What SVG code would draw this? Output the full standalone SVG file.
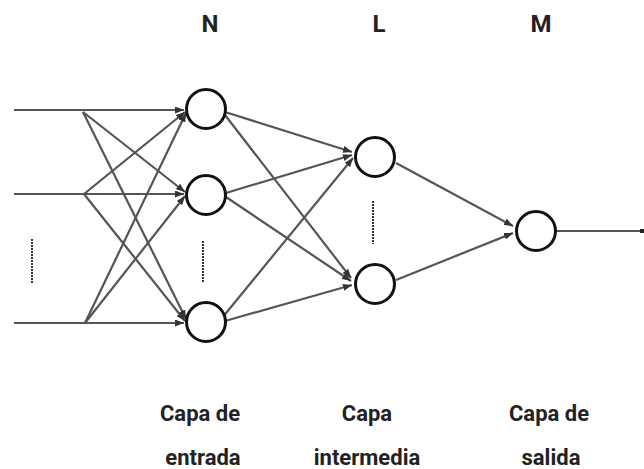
<svg xmlns="http://www.w3.org/2000/svg" width="644" height="469" viewBox="0 0 644 469">
  <style>
    .wire { fill: none; stroke: #555; stroke-width: 2.2; }
    .arr { marker-end: url(#head); }
    .neuron { fill: #fff; stroke: #111; stroke-width: 3; }
    .dots { fill: none; stroke: #333; stroke-width: 2; stroke-dasharray: 2 1; }
    .lbl { font-family: Roboto, "Liberation Sans", Arial, sans-serif; font-weight: bold; font-size: 22px; fill: #222; text-anchor: middle; }
    .ttl { font-size: 24px; }
  </style>
  <defs>
    <marker id="head" markerUnits="userSpaceOnUse" markerWidth="9" markerHeight="7" refX="9" refY="3.5" orient="auto">
      <path d="M0,0 L9,3.5 L0,7 Z" fill="#333"/>
    </marker>
  </defs>

  <rect width="644" height="469" fill="#fff"/>

  <!-- layer titles -->
  <g id="titles">
    <text class="lbl ttl" x="210" y="32">N</text>
    <text class="lbl ttl" x="379" y="32">L</text>
    <text class="lbl ttl" x="541" y="32">M</text>
  </g>

  <!-- all connections -->
  <g id="connectors">
    <!-- inputs -->
    <path class="wire arr" d="M14,110 L184,110"/>
    <path class="wire arr" d="M14,194 L184,194"/>
    <path class="wire arr" d="M14,323 L184,323"/>
    <!-- fan-out from inputs -->
    <path class="wire arr" d="M84,194 L185,112"/>
    <path class="wire arr" d="M85,323 L186,113"/>
    <path class="wire arr" d="M83,112 L185,192"/>
    <path class="wire arr" d="M85,323 L185,196"/>
    <path class="wire arr" d="M83,112 L186,319"/>
    <path class="wire arr" d="M84,194 L185,321"/>
    <!-- input layer to hidden layer -->
    <path class="wire arr" d="M225,112 L352,152"/>
    <path class="wire arr" d="M225,115 L351,278"/>
    <path class="wire arr" d="M226,193 L352,155"/>
    <path class="wire arr" d="M226,197 L351,281"/>
    <path class="wire arr" d="M222,318 L353,158"/>
    <path class="wire arr" d="M225,321 L352,285"/>
    <!-- hidden layer to output -->
    <path class="wire arr" d="M396,163 L513,226"/>
    <path class="wire arr" d="M396,280 L513,233"/>
    <!-- output -->
    <path class="wire" d="M557,231 L641,231"/>
    <rect x="640" y="229" width="4" height="4" fill="#222"/>
  </g>

  <!-- ellipsis marks -->
  <g id="ellipses">
    <path class="dots" d="M32,239 L32,283"/>
    <path class="dots" d="M203,241 L203,283"/>
    <path class="dots" d="M373,201 L373,244"/>
  </g>

  <g id="input-1"><circle class="neuron" cx="206" cy="109" r="19.5"/></g>
  <g id="input-2"><circle class="neuron" cx="206" cy="195" r="19.5"/></g>
  <g id="input-3"><circle class="neuron" cx="206" cy="322" r="19.5"/></g>
  <g id="hidden-1"><circle class="neuron" cx="375" cy="157" r="19.5"/></g>
  <g id="hidden-2"><circle class="neuron" cx="375" cy="284" r="19.5"/></g>
  <g id="output-1"><circle class="neuron" cx="536" cy="231" r="19.5"/></g>

  <!-- layer captions -->
  <g id="captions">
    <text class="lbl" x="200" y="421">Capa de</text>
    <text class="lbl" x="203" y="465">entrada</text>
    <text class="lbl" x="367" y="421">Capa</text>
    <text class="lbl" x="367" y="465">intermedia</text>
    <text class="lbl" x="549" y="421">Capa de</text>
    <text class="lbl" x="551" y="465">salida</text>
  </g>
</svg>
